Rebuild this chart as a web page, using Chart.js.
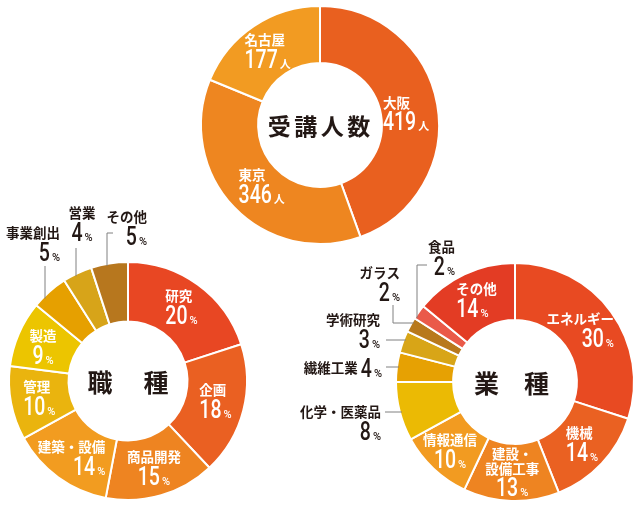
<!DOCTYPE html>
<html lang="ja">
<head>
<meta charset="utf-8">
<title>受講人数・職種・業種</title>
<script src="https://cdn.jsdelivr.net/npm/chart.js@4.4.1/dist/chart.umd.min.js"></script>
<style>
    html, body { margin: 0; padding: 0; background: #fff; }
    #wrap { position: relative; width: 640px; height: 510px; overflow: hidden; }
    #wrap canvas { position: absolute; left: 0; top: 0; pointer-events: none; }
</style>
</head>
<body>
<div id="wrap">
    <canvas id="city" width="640" height="510"></canvas>
    <canvas id="job" width="640" height="510"></canvas>
    <canvas id="industry" width="640" height="510"></canvas>
</div>
<script>
(function () {
    "use strict";

    // Data
    var cityLabels = ["大阪", "東京", "名古屋"];
    var cityValues = [419, 346, 177];

    var jobLabels = ["研究", "企画", "商品開発", "建築・設備", "管理", "製造", "事業創出", "営業", "その他"];
    var jobValues = [20, 18, 15, 14, 10, 9, 5, 4, 5];

    var industryLabels = ["エネルギー", "機械", "建設・\n設備工事", "情報通信", "化学・医薬品", "繊維工業", "学術研究", "ガラス", "食品", "その他"];
    var industryValues = [30, 14, 13, 10, 8, 4, 3, 2, 2, 14];

    // Colours
    var cityColors = ["#e9601f", "#ee8620", "#f29b22"];
    var jobColors = ["#e84723", "#ea6022", "#ee8421", "#f29c20", "#eab40e", "#ecc500", "#e6a000", "#d7a419", "#b7771e"];
    var industryColors = ["#e84a22", "#ea6122", "#ee8421", "#f29b21", "#ebba04", "#e6a103", "#d8a517", "#b8791c", "#ea5a49", "#e33c24"];

    var DARK = "#231815";
    var NAME_FONT = '700 13.5px "Noto Sans CJK JP"';
    var NUM_FONT = '500 25px Roboto';
    var PCT_FONT = '500 11px Roboto';
    var UNIT_CJK = '700 11px "Noto Sans CJK JP"';
    var SQUEEZE = 0.78;

    function numWidth(ctx, num, unit) {
        ctx.font = NUM_FONT;
        var w = ctx.measureText(num).width * SQUEEZE;
        ctx.font = unit === "人" ? UNIT_CJK : PCT_FONT;
        return w + 2 + ctx.measureText(unit).width;
    }

    function drawNumber(ctx, x, baseY, num, unit, color) {
        ctx.save();
        ctx.fillStyle = color;
        ctx.textAlign = "left";
        ctx.textBaseline = "alphabetic";
        ctx.font = NUM_FONT;
        var w = ctx.measureText(num).width * SQUEEZE;
        ctx.translate(x, baseY);
        ctx.scale(SQUEEZE, 1);
        ctx.fillText(num, 0, 0);
        ctx.restore();
        ctx.save();
        ctx.fillStyle = color;
        ctx.textAlign = "left";
        ctx.textBaseline = "alphabetic";
        ctx.font = unit === "人" ? UNIT_CJK : PCT_FONT;
        ctx.fillText(unit, x + w + 2, baseY);
        ctx.restore();
    }

    function blockWidth(ctx, lines, num, unit) {
        ctx.font = NAME_FONT;
        var w = 0;
        lines.forEach(function (s) { w = Math.max(w, ctx.measureText(s).width); });
        return Math.max(w, numWidth(ctx, num, unit));
    }

    // bx = block centre, y = reference line (name above, digits below)
    function drawBlock(ctx, bx, y, lines, num, unit, color, align) {
        var bw = blockWidth(ctx, lines, num, unit);
        function lineX(w) {
            if (align === "left") return bx - bw / 2;
            if (align === "right") return bx + bw / 2 - w;
            return bx - w / 2;
        }
        ctx.save();
        ctx.fillStyle = color;
        ctx.font = NAME_FONT;
        ctx.textAlign = "left";
        ctx.textBaseline = "middle";
        lines.forEach(function (s, j) {
            var w = ctx.measureText(s).width;
            ctx.fillText(s, lineX(w), y - 13 - (lines.length - 1 - j) * 15);
        });
        ctx.restore();
        drawNumber(ctx, lineX(numWidth(ctx, num, unit)), y + 15, num, unit, color);
    }

    var sliceLabels = {
        id: "sliceLabels",
        afterDatasetsDraw: function (chart, args, opts) {
            var ctx = chart.ctx;
            var meta = chart.getDatasetMeta(0);
            var labels = chart.data.labels;
            var values = chart.data.datasets[0].data;
            var arc0 = meta.data[0];

            meta.data.forEach(function (arc, i) {
                var lay = opts.layout[i];
                var lines = labels[i].split("\n");
                var num = String(values[i]);
                if (lay.pos === "in") {
                    var c = arc.getCenterPoint();
                    drawBlock(ctx, c.x + lay.dx, c.y + lay.dy, lines, num, opts.unit, "#fff", lay.align);
                    return;
                }
                // leader line, last segment runs to the ring edge
                if (lay.leader) {
                    var pts = lay.leader.slice();
                    var last = pts[pts.length - 1];
                    var r = arc.outerRadius - 2;
                    var end;
                    if (lay.to === "h") {
                        var ddy = last[1] - arc.y;
                        end = [arc.x - Math.sqrt(r * r - ddy * ddy), last[1]];
                    } else {
                        var ddx = last[0] - arc.x;
                        end = [last[0], arc.y - Math.sqrt(r * r - ddx * ddx)];
                    }
                    pts.push(end);
                    ctx.save();
                    ctx.strokeStyle = "#808080";
                    ctx.lineWidth = 1;
                    ctx.beginPath();
                    pts.forEach(function (p, k) {
                        if (k === 0) ctx.moveTo(p[0], p[1]); else ctx.lineTo(p[0], p[1]);
                    });
                    ctx.stroke();
                    ctx.restore();
                }
                if (lay.inline) {
                    var nw = numWidth(ctx, num, opts.unit);
                    drawNumber(ctx, lay.x - nw, lay.y + 9, num, opts.unit, DARK);
                    ctx.save();
                    ctx.fillStyle = DARK;
                    ctx.font = NAME_FONT;
                    ctx.textAlign = "right";
                    ctx.textBaseline = "middle";
                    ctx.fillText(lines[0], lay.x - nw - 3, lay.y);
                    ctx.restore();
                    return;
                }
                var bw = blockWidth(ctx, lines, num, opts.unit);
                var bx = lay.x;
                if (lay.align === "right") bx = lay.x - bw / 2;
                if (lay.align === "left") bx = lay.x + bw / 2;
                drawBlock(ctx, bx, lay.y, lines, num, opts.unit, DARK, lay.align);
            });

            // centre title
            var t = opts.title;
            ctx.save();
            ctx.fillStyle = DARK;
            ctx.font = t.font;
            ctx.textAlign = "center";
            ctx.textBaseline = "middle";
            var startX = arc0.x + (t.dx || 0) - t.step * (t.chars.length - 1) / 2;
            t.chars.forEach(function (ch, k) {
                ctx.fillText(ch, startX + k * t.step, arc0.y + 1);
            });
            ctx.restore();
        }
    };

    function makeDoughnut(id, labels, values, colors, cutout, padding, pluginOpts) {
        var ctx = document.getElementById(id).getContext("2d");
        return new Chart(ctx, {
            type: "doughnut",
            data: {
                labels: labels,
                datasets: [{
                    data: values,
                    backgroundColor: colors,
                    borderColor: "#ffffff",
                    borderWidth: 2,
                    hoverOffset: 0
                }]
            },
            options: {
                responsive: false,
                animation: false,
                cutout: cutout,
                layout: { padding: padding },
                events: [],
                plugins: {
                    legend: { display: false },
                    tooltip: { enabled: false },
                    sliceLabels: pluginOpts
                }
            },
            plugins: [sliceLabels]
        });
    }

    // 受講人数
    makeDoughnut("city", cityLabels, cityValues, cityColors, "52%",
        { left: 200, right: 200, top: 5, bottom: 265 },
        {
            unit: "人",
            title: { chars: ["受", "講", "人", "数"], step: 26.5, font: '700 23px "Noto Sans CJK JP"', dx: -1 },
            layout: [
                { pos: "in", dx: -3, dy: 6, align: "left" },
                { pos: "in", dx: 7, dy: 0, align: "left" },
                { pos: "in", dx: -2, dy: 3, align: "left" }
            ]
        });

    // 職種
    makeDoughnut("job", jobLabels, jobValues, jobColors, "50%",
        { left: 8, right: 392, top: 261, bottom: 9 },
        {
            unit: "%",
            title: { chars: ["職", "種"], step: 56, font: '700 25px "Noto Sans CJK JP"', dx: 0 },
            layout: [
                { pos: "in", dx: 1, dy: 0, align: "left" },
                { pos: "in", dx: 1, dy: 0, align: "left" },
                { pos: "in", dx: 1, dy: 3, align: "center" },
                { pos: "in", dx: -4, dy: 7, align: "right" },
                { pos: "in", dx: -1, dy: 2, align: "left" },
                { pos: "in", dx: -3, dy: 3, align: "center" },
                { pos: "out", x: 60, y: 246, align: "right", leader: [[45, 266]], to: "v" },
                { pos: "out", x: 82, y: 226, align: "center", leader: [[76, 248]], to: "v" },
                { pos: "out", x: 147, y: 230, align: "right", leader: [[113, 233], [107, 233]], to: "v" }
            ]
        });

    // 業種
    makeDoughnut("industry", industryLabels, industryValues, industryColors, "52%",
        { left: 395, right: 5, top: 262, bottom: 8 },
        {
            unit: "%",
            title: { chars: ["業", "種"], step: 50, font: '700 25px "Noto Sans CJK JP"', dx: -3.5 },
            layout: [
                { pos: "in", dx: -8, dy: 3, align: "right" },
                { pos: "in", dx: 1, dy: 2, align: "left" },
                { pos: "in", dx: 0, dy: 9, align: "center" },
                { pos: "in", dx: -3, dy: 5, align: "center" },
                { pos: "out", x: 381, y: 425, align: "right", leader: [[385, 412]], to: "h" },
                { pos: "out", x: 382, y: 368, inline: true, leader: [[386, 367]], to: "h" },
                { pos: "out", x: 380, y: 333, align: "right", leader: [[386, 340]], to: "h" },
                { pos: "out", x: 400, y: 286, align: "right", leader: [[393, 305], [393, 323]], to: "h" },
                { pos: "out", x: 455, y: 260, align: "right", leader: [[427, 265], [417, 265]], to: "v" },
                { pos: "in", dx: 0, dy: 2, align: "left" }
            ]
        });
})();
</script>
</body>
</html>
